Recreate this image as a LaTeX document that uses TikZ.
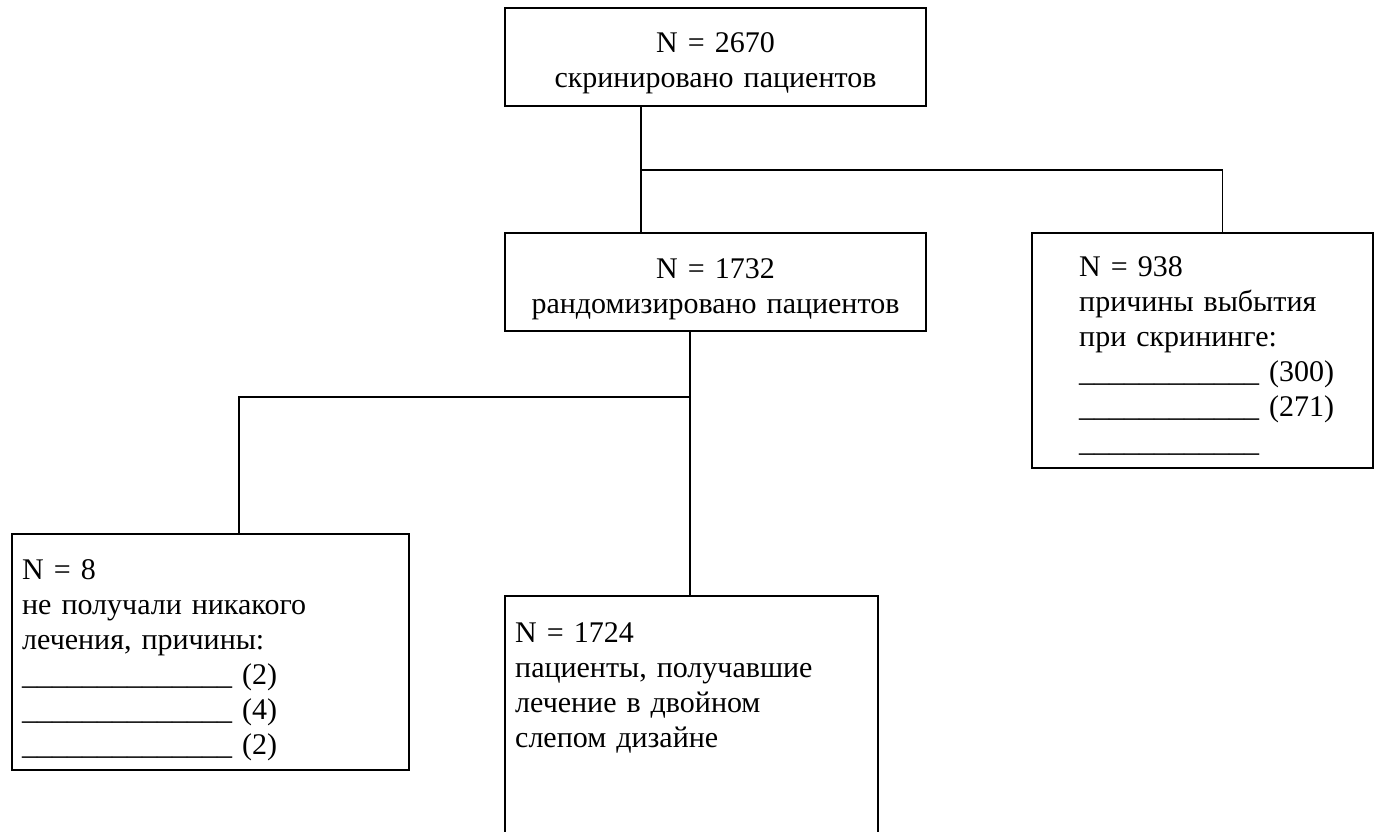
\documentclass[tikz,border=0pt]{standalone}
\usepackage{fontspec}
\setmainfont{Liberation Serif}
\begin{document}
\begin{tikzpicture}[
    x=1pt, y=-1pt,
    box/.style={draw, rectangle, line width=1.5pt, anchor=north west, inner sep=0pt, outer sep=0pt},
    txt/.style={inner sep=0pt, font=\fontsize{30}{35}\selectfont},
    link/.style={line width=1.5pt}
]
    \useasboundingbox (0,0) rectangle (1376,831);
    \clip (0,0) rectangle (1376,831);

    % Rahmen
    \node[box, minimum width=421pt, minimum height=98pt] (screened) at (505,8) {};
    \node[box, minimum width=421pt, minimum height=98pt] (randomized) at (505,233) {};
    \node[box, minimum width=341pt, minimum height=235pt] (excluded) at (1032,233) {};
    \node[box, minimum width=397pt, minimum height=236pt] (untreated) at (12,534) {};
    \node[box, minimum width=373pt, minimum height=300pt] (treated) at (505,596) {};

    % Texte
    \node[txt, anchor=base, align=center, text width=400pt] (screened-txt) at (715.5,52)
        {N = 2670\\скринировано пациентов};
    \node[txt, anchor=base, align=center, text width=400pt] (randomized-txt) at (715.5,278)
        {N = 1732\\рандомизировано пациентов};
    \node[txt, anchor=base west, align=left, text width=290pt] (excluded-txt) at (1079,276)
        {N = 938\\причины выбытия\\при скрининге:\\\_\_\_\_\_\_\_\_\_\_\_\_ (300)\\\_\_\_\_\_\_\_\_\_\_\_\_ (271)\\\_\_\_\_\_\_\_\_\_\_\_\_};
    \node[txt, anchor=base west, align=left, text width=380pt] (untreated-txt) at (22,579)
        {N = 8\\не получали никакого\\лечения, причины:\\\_\_\_\_\_\_\_\_\_\_\_\_\_\_ (2)\\\_\_\_\_\_\_\_\_\_\_\_\_\_\_ (4)\\\_\_\_\_\_\_\_\_\_\_\_\_\_\_ (2)};
    \node[txt, anchor=base west, align=left, text width=350pt] (treated-txt) at (515,642)
        {N = 1724\\пациенты, получавшие\\лечение в двойном\\слепом дизайне};

    % Verbindungen
    \coordinate (fork1) at (641,170);
    \coordinate (fork2) at (690,397);
    \draw[link] (screened.south -| fork1) -- (randomized.north -| fork1);
    \draw[link] (fork1) -| ([xshift=20pt]excluded.north);
    \draw[link] (randomized.south -| fork2) -- (treated.north -| fork2);
    \draw[link] (fork2) -| ([xshift=28.5pt]untreated.north);

\end{tikzpicture}
\end{document}
